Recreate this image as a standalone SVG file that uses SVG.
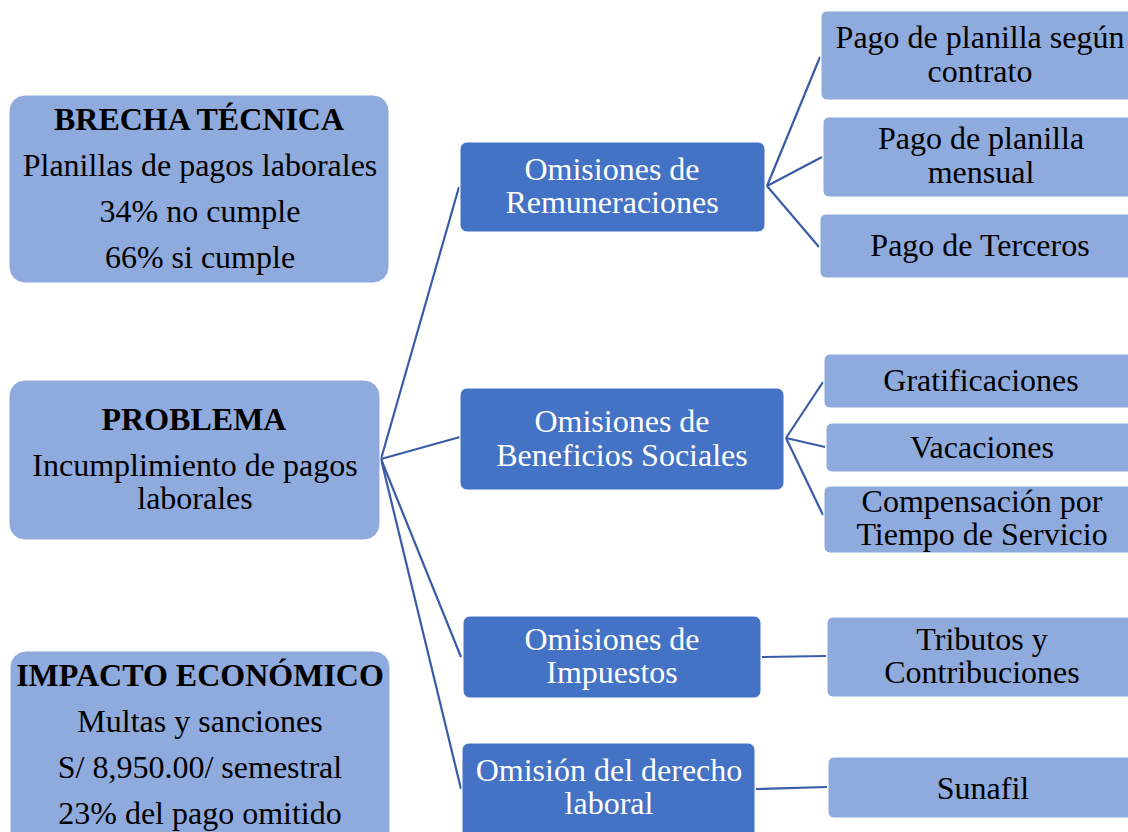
<svg xmlns="http://www.w3.org/2000/svg" width="1128" height="832" viewBox="0 0 1128 832">
<style>
.lt{fill:#8FAADC;stroke:#ffffff;stroke-width:1}
.dk{fill:#4472C4;stroke:#ffffff;stroke-width:1}
text{font-family:"Liberation Serif","Times New Roman",serif;font-size:32px;text-anchor:middle}
.b{font-weight:bold}
.w{fill:#ffffff}
.k{fill:#000000}
.c{stroke:#3A5BA6;stroke-width:2.2;fill:none}
</style>
<rect width="1128" height="832" fill="#ffffff"/>
<g id="connectors">
<line class="c" x1="381" y1="459" x2="459" y2="187"/>
<line class="c" x1="381" y1="459" x2="460" y2="437"/>
<line class="c" x1="381" y1="459" x2="461" y2="657"/>
<line class="c" x1="381" y1="459" x2="461" y2="789"/>
<line class="c" x1="767" y1="186" x2="820" y2="57"/>
<line class="c" x1="767" y1="186" x2="822" y2="157"/>
<line class="c" x1="767" y1="186" x2="819" y2="247"/>
<line class="c" x1="786" y1="438" x2="823" y2="382"/>
<line class="c" x1="786" y1="438" x2="825" y2="447"/>
<line class="c" x1="786" y1="438" x2="823" y2="515"/>
<line class="c" x1="762" y1="657" x2="826" y2="656"/>
<line class="c" x1="756" y1="789" x2="827" y2="787"/>
</g>
<g id="brecha">
<rect class="lt" x="9" y="95" width="380" height="188" rx="16"/>
<text class="k b" x="199" y="130">BRECHA TÉCNICA</text>
<text class="k" x="200" y="176">Planillas de pagos laborales</text>
<text class="k" x="200" y="222">34% no cumple</text>
<text class="k" x="200" y="268">66% si cumple</text>
</g>
<g id="problema">
<rect class="lt" x="9" y="380" width="371" height="160" rx="16"/>
<text class="k b" x="194" y="430">PROBLEMA</text>
<text class="k" x="195" y="476">Incumplimiento de pagos</text>
<text class="k" x="195" y="509">laborales</text>
</g>
<g id="impacto">
<rect class="lt" x="10" y="651" width="380" height="200" rx="16"/>
<text class="k b" x="200" y="686">IMPACTO ECONÓMICO</text>
<text class="k" x="200" y="732">Multas y sanciones</text>
<text class="k" x="200" y="778">S/ 8,950.00/ semestral</text>
<text class="k" x="200" y="824">23% del pago omitido</text>
</g>
<g id="remuneraciones">
<rect class="dk" x="460" y="142" width="305" height="90" rx="7"/>
<text class="w" x="612" y="180">Omisiones de</text>
<text class="w" x="612" y="213">Remuneraciones</text>
</g>
<g id="beneficios">
<rect class="dk" x="460" y="388" width="324" height="102" rx="7"/>
<text class="w" x="622" y="432">Omisiones de</text>
<text class="w" x="622" y="466">Beneficios Sociales</text>
</g>
<g id="impuestos">
<rect class="dk" x="463" y="616" width="298" height="82" rx="7"/>
<text class="w" x="612" y="650">Omisiones de</text>
<text class="w" x="612" y="683">Impuestos</text>
</g>
<g id="derecho">
<rect class="dk" x="462" y="743" width="293" height="110" rx="7"/>
<text class="w" x="609" y="781">Omisión del derecho</text>
<text class="w" x="609" y="814">laboral</text>
</g>
<g id="contrato">
<rect class="lt" x="821" y="11" width="320" height="89" rx="6"/>
<text class="k" x="980" y="48">Pago de planilla según</text>
<text class="k" x="980" y="82">contrato</text>
</g>
<g id="mensual">
<rect class="lt" x="823" y="117" width="318" height="80" rx="6"/>
<text class="k" x="981" y="149">Pago de planilla</text>
<text class="k" x="981" y="183">mensual</text>
</g>
<g id="terceros">
<rect class="lt" x="820" y="214" width="321" height="64" rx="6"/>
<text class="k" x="980" y="256">Pago de Terceros</text>
</g>
<g id="gratificaciones">
<rect class="lt" x="824" y="354" width="317" height="54" rx="6"/>
<text class="k" x="981" y="391">Gratificaciones</text>
</g>
<g id="vacaciones">
<rect class="lt" x="826" y="423" width="315" height="49" rx="6"/>
<text class="k" x="982" y="458">Vacaciones</text>
</g>
<g id="cts">
<rect class="lt" x="824" y="486" width="317" height="67" rx="6"/>
<text class="k" x="982" y="512">Compensación por</text>
<text class="k" x="982" y="545">Tiempo de Servicio</text>
</g>
<g id="tributos">
<rect class="lt" x="827" y="617" width="314" height="80" rx="6"/>
<text class="k" x="982" y="650">Tributos y</text>
<text class="k" x="982" y="683">Contribuciones</text>
</g>
<g id="sunafil">
<rect class="lt" x="828" y="757" width="313" height="61" rx="6"/>
<text class="k" x="983" y="799">Sunafil</text>
</g>
</svg>
